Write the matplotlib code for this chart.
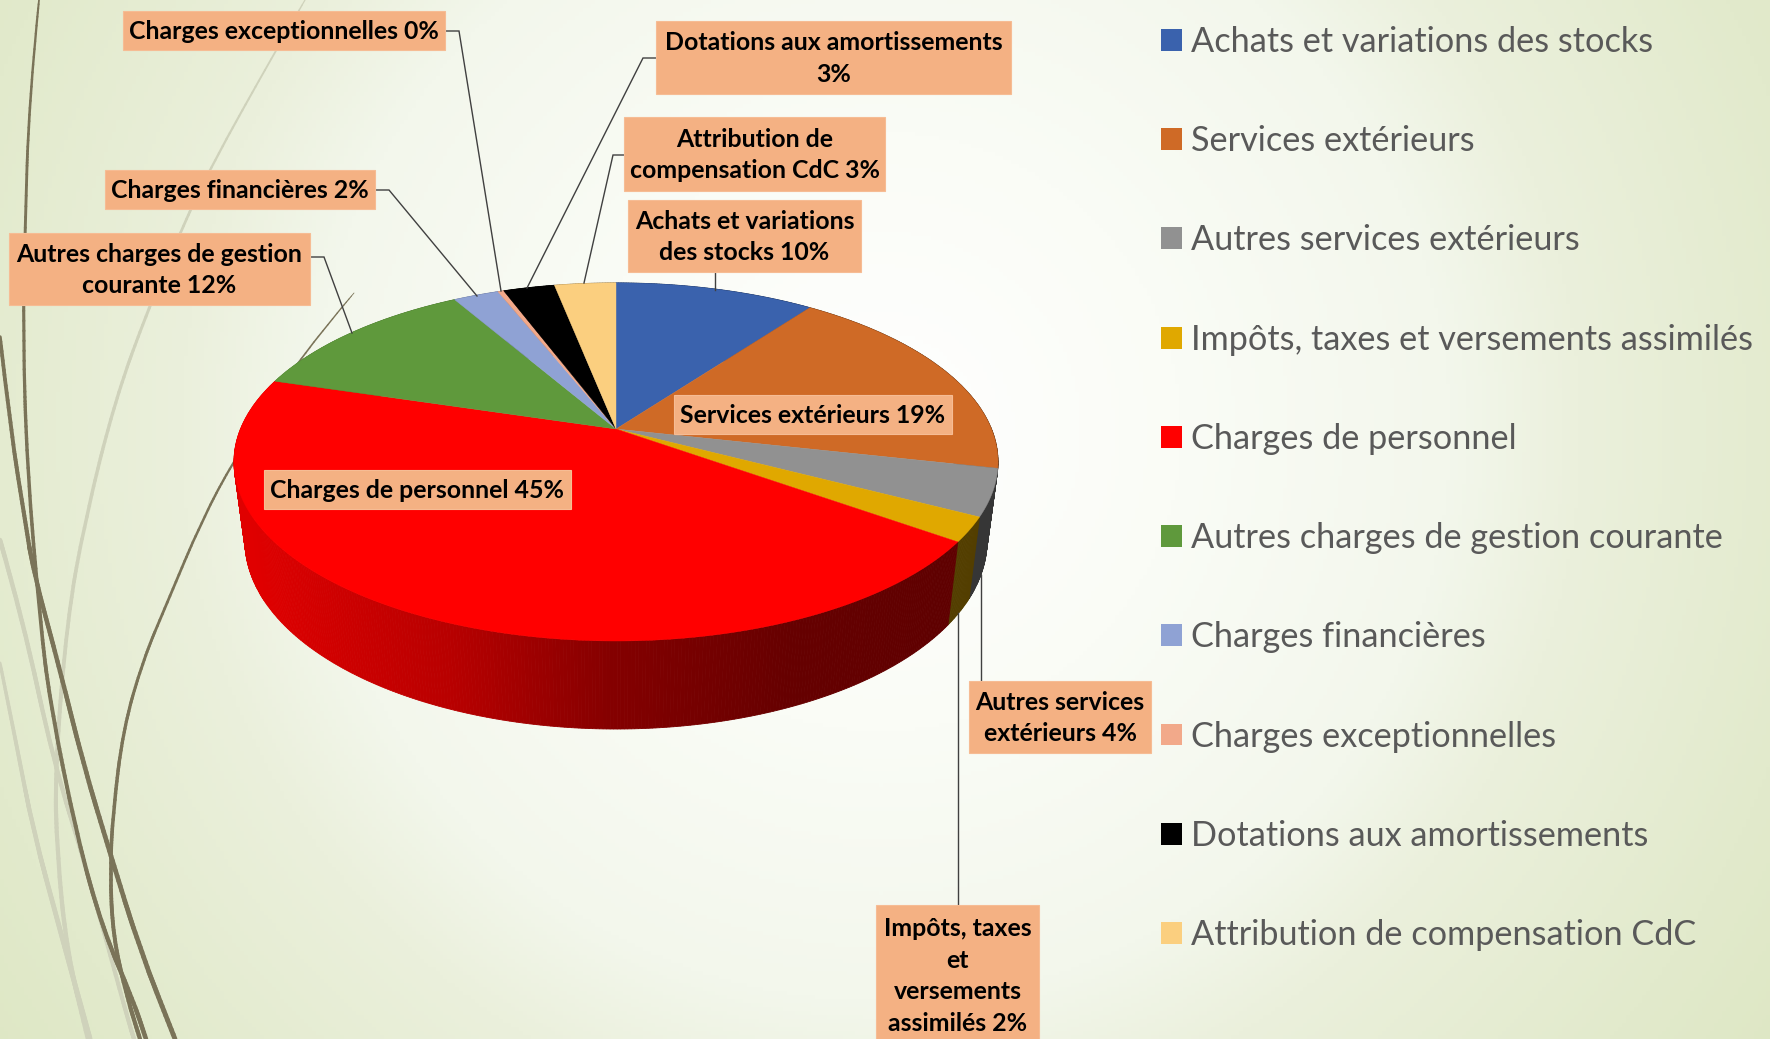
import numpy as np
import matplotlib
matplotlib.use("Agg")
import matplotlib.pyplot as plt
from matplotlib.collections import LineCollection
from matplotlib.path import Path
from matplotlib.patches import Patch, Rectangle

# -------------------------------
# DATA
# -------------------------------

categories = ["Achats et variations des stocks", "Services extérieurs",
              "Autres services extérieurs", "Impôts, taxes et versements assimilés",
              "Charges de personnel", "Autres charges de gestion courante",
              "Charges financières", "Charges exceptionnelles",
              "Dotations aux amortissements", "Attribution de compensation CdC"]
shares = [10.1, 18.4, 4.2, 2.2, 44.8, 12.0, 2.3, 0.3, 2.6, 3.1]
colors = ["#3a62ad", "#cf6a26", "#919191", "#e0a800", "#ff0000",
          "#5f993c", "#8fa2d4", "#f2a98a", "#000000", "#fbcf7f"]
label_texts = ["Achats et variations\ndes stocks 10%", "Services extérieurs 19%",
               "Autres services\nextérieurs 4%", "Impôts, taxes\net\nversements\nassimilés 2%",
               "Charges de personnel 45%", "Autres charges de gestion\ncourante 12%",
               "Charges financières 2%", "Charges exceptionnelles 0%",
               "Dotations aux amortissements\n3%", "Attribution de\ncompensation CdC 3%"]

# -------------------------------
# LAYOUT (pixels of the picture)
# -------------------------------

# x0, y0, x1, y1 of each label box, same order as the categories
label_boxes = [(628, 200, 861, 272), (674, 395, 952, 434), (969, 681, 1151, 753),
               (876, 905, 1039, 1045), (264, 470, 571, 509), (9, 233, 310, 305),
               (105, 170, 375, 209), (123, 11, 445, 50), (656, 21, 1011, 94),
               (624, 117, 885, 191)]
leaders = [[(715, 272), (715, 290)], None, [(981, 681), (981, 575)],
           [(958, 905), (958, 613)], None, [(311, 257), (324, 257), (352, 333)],
           [(376, 190), (389, 190), (477, 296)], [(446, 31), (459, 31), (501, 291)],
           [(656, 58), (643, 58), (527, 288)], [(624, 155), (613, 155), (584, 283)]]

CX, CY = 616, 429      # point where the slices meet
R, H, K = 375.5, 173, 0.184   # perspective of the disc
TOP_C, TOP_RX, TOP_RY = 462, 382, 179
BOT_C, BOT_RX, BOT_RY = 541, 371, 188

# curve points, width at start and end in pixels
dark_curves = [
    ([(39, 0), (29, 100), (25, 233), (23, 333), (27, 467), (40, 620), (50, 703),
      (77, 837), (103, 930), (133, 1000), (146, 1039)], 1.8, 4.5),
    ([(0, 337), (11, 433), (25, 520), (33, 570), (60, 670), (83, 763), (110, 853),
      (140, 950), (175, 1039)], 3.5, 4.8),
    ([(354, 293), (297, 360), (234, 460), (202, 520), (167, 603), (143, 660),
      (123, 730), (113, 813), (110, 870), (113, 937), (127, 997), (140, 1039)], 0.8, 4.2),
]
light_curves = [
    ([(305, 0), (276, 50), (209, 170), (180, 233), (149, 307), (115, 400), (85, 520),
      (67, 620), (55, 770), (57, 853), (67, 953), (88, 1039)], 1.2, 4.5),
    ([(0, 540), (23, 620), (53, 760), (87, 870), (128, 1020), (134, 1039)], 4.5, 4.0),
    ([(0, 663), (17, 747), (33, 830), (60, 930), (90, 1039)], 3.0, 5.0),
]


def top_face(frac):
    # frac goes clockwise from the top of the disc
    a = 2 * np.pi * np.asarray(frac)
    u, v = np.sin(a), -np.cos(a)
    w = 1 - K * v
    return CX + R * u / w, CY + H * v / w


def bottom_face(x, y):
    return CX + (x - CX) * BOT_RX / TOP_RX, BOT_C + (y - TOP_C) * BOT_RY / TOP_RY


def shade(x):
    return np.interp(x, [245, 450, 610, 790, 960], [0.88, 0.72, 0.52, 0.40, 0.37])


def draw_curve(ax, pts, w0, w1, color):
    pts = np.array(pts, dtype=float)
    verts = [pts[0]]
    codes = [Path.MOVETO]
    for i in range(1, len(pts) - 1):
        verts += [pts[i], (pts[i] + pts[i + 1]) / 2]
        codes += [Path.CURVE3, Path.CURVE3]
    verts.append(pts[-1])
    codes.append(Path.LINETO)
    flat = Path(verts, codes).interpolated(1).to_polygons(closed_only=False)[0]
    # resample so the width changes smoothly along the curve
    t = np.linspace(0, len(flat) - 1, 200)
    xs = np.interp(t, np.arange(len(flat)), flat[:, 0])
    ys = np.interp(t, np.arange(len(flat)), flat[:, 1])
    segs = np.stack([np.c_[xs[:-1], ys[:-1]], np.c_[xs[1:], ys[1:]]], axis=1)
    widths = (w0 + (w1 - w0) * np.linspace(0, 1, len(segs)) ** 0.5) * 0.72
    ax.add_collection(LineCollection(segs, colors=color, linewidths=widths,
                                     capstyle="round", zorder=1))


# -------------------------------
# FIGURE
# -------------------------------

fig = plt.figure(figsize=(17.7, 10.39), dpi=100)
ax = fig.add_axes([0, 0, 1, 1])

# Background
gx, gy = np.meshgrid(np.arange(0, 1770, 4), np.arange(0, 1039, 4))
dist = np.hypot(gx - 880, gy - 430)
stops = [0, 300, 570, 700, 950, 1100]
rgb = np.dstack([np.interp(dist, stops, [255, 250, 243, 235, 226, 222]),
                 np.interp(dist, stops, [255, 252, 247, 240, 234, 231]),
                 np.interp(dist, stops, [255, 246, 236, 220, 204, 196])]) / 255
ax.imshow(rgb, extent=(0, 1770, 1039, 0), aspect="auto", zorder=0)

for pts, w0, w1 in light_curves:
    draw_curve(ax, pts, w0, w1, "#cfd2bb")
for pts, w0, w1 in dark_curves:
    draw_curve(ax, pts, w0, w1, "#7a7358")

# Pie
edges = np.cumsum([0] + shares) / sum(shares)

# side wall, strip by strip
for i, c in enumerate(colors):
    fr = np.linspace(edges[i], edges[i + 1], max(2, int(shares[i] * 8)))
    tx, ty = top_face(fr)
    bx, by = bottom_face(tx, ty)
    base = np.array(matplotlib.colors.to_rgb(c))
    for j in range(len(fr) - 1):
        col = base * shade((tx[j] + tx[j + 1]) / 2)
        ax.fill([tx[j], tx[j + 1], bx[j + 1], bx[j]], [ty[j], ty[j + 1], by[j + 1], by[j]],
                fc=col, ec=col, lw=0.6, zorder=2)

# top of the pie
for i, c in enumerate(colors):
    fr = np.linspace(edges[i], edges[i + 1], max(3, int(shares[i] * 6)))
    tx, ty = top_face(fr)
    ax.fill(np.r_[CX, tx], np.r_[CY, ty], fc=c, ec=c, lw=0.3, zorder=3)

# Leader lines and labels
for line in leaders:
    if line is not None:
        xs, ys = zip(*line)
        ax.plot(xs, ys, color="#404040", lw=1.0, zorder=4, solid_joinstyle="miter")

for box, txt in zip(label_boxes, label_texts):
    x0, y0, x1, y1 = box
    ax.add_patch(Rectangle((x0, y0), x1 - x0, y1 - y0, fc="#f4b183", ec="#f6bc94", lw=0.8, zorder=5))
    ax.text((x0 + x1) / 2, (y0 + y1) / 2 + 1, txt, ha="center", va="center", fontsize=17.9,
            fontfamily="Lato", fontweight="bold", color="black", linespacing=1.45, zorder=6)

# Legend
handles = [Patch(fc=c, ec="none") for c in colors]
ax.legend(handles, categories, loc="upper left", bbox_to_anchor=(1161 / 1770, 1 - 26 / 1039),
          frameon=False, prop={"family": "Lato", "size": 24.7}, labelcolor="#595959",
          handlelength=0.6, handleheight=0.6, handletextpad=0.27,
          labelspacing=1.96, borderpad=0, borderaxespad=0)

ax.set_xlim(0, 1770)
ax.set_ylim(1039, 0)
ax.axis("off")

plt.savefig("out.png", dpi=100)
